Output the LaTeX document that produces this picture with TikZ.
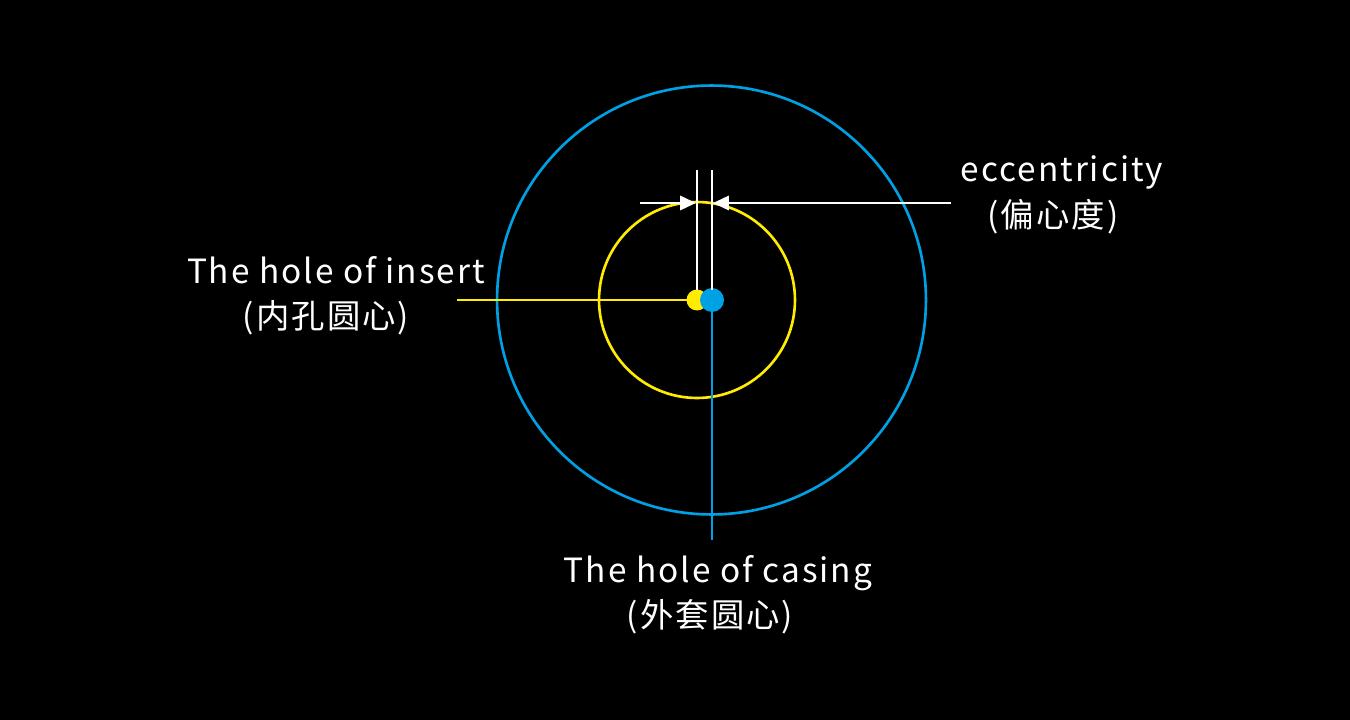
\documentclass[tikz,border=0pt]{standalone}
\usepackage{fontspec}
\setmainfont{Noto Sans CJK SC}[LetterSpace=6]
\usetikzlibrary{arrows.meta, positioning}
\definecolor{insyellow}{RGB}{255, 236, 0}
\definecolor{casblue}{RGB}{0, 160, 228}

\tikzset{
  lbl/.style={text=white, font=\fontsize{19}{22}\selectfont, inner sep=0pt},
  dot/.style={circle, inner sep=0pt},
  guide/.style={white, line width=1.6pt},
  dimarrow/.style={white, line width=1.6pt, -{Triangle[length=9pt, width=8pt]}}
}

\begin{document}
\begin{tikzpicture}[x=0.02cm, y=-0.02cm]
  % background
  \fill[black] (0,0) rectangle (1350,720);
  \useasboundingbox (0,0) rectangle (1350,720);

  % casing and insert circles
  \draw[casblue, line width=1.5pt] (711.5,300) circle (4.29cm);
  \draw[insyellow, line width=1.5pt] (697,300) circle (1.96cm);

  % centres
  \node[dot, fill=insyellow, minimum size=0.42cm] (ins) at (697,300) {};
  \node[dot, fill=casblue, minimum size=0.48cm] (cas) at (712,300) {};

  % leader lines
  \coordinate (insend) at (457,300);
  \coordinate (casend) at (712,540);
  \draw[insyellow, line width=1.3pt] (insend) -- (ins.center);
  \draw[casblue, line width=1.3pt] (cas.center) -- (casend);

  % eccentricity dimension
  \coordinate (ltop) at (697,170);
  \coordinate (lbot) at (697,290);
  \coordinate (rtop) at (712,170);
  \coordinate (rbot) at (712,290);
  \draw[guide] (ltop) -- (lbot);
  \draw[guide] (rtop) -- (rbot);
  \coordinate (larr) at (640,203);
  \coordinate (rarr) at (951,203);
  \draw[dimarrow] (larr) -- (696,203);
  \draw[dimarrow] (rarr) -- (713,203);

  % labels
  \node[lbl] (insen) at (336,270) {The hole of insert};
  \node[lbl] (inszh) at (326,318) {(内孔圆心)};
  \node[lbl] (ecen) at (1062,172) {eccentricity};
  \node[lbl] (eczh) at (1053,217) {(偏心度)};
  \node[lbl] (casen) at (718,573) {The hole of casing};
  \node[lbl] (caszh) at (710,617) {(外套圆心)};
\end{tikzpicture}
\end{document}
